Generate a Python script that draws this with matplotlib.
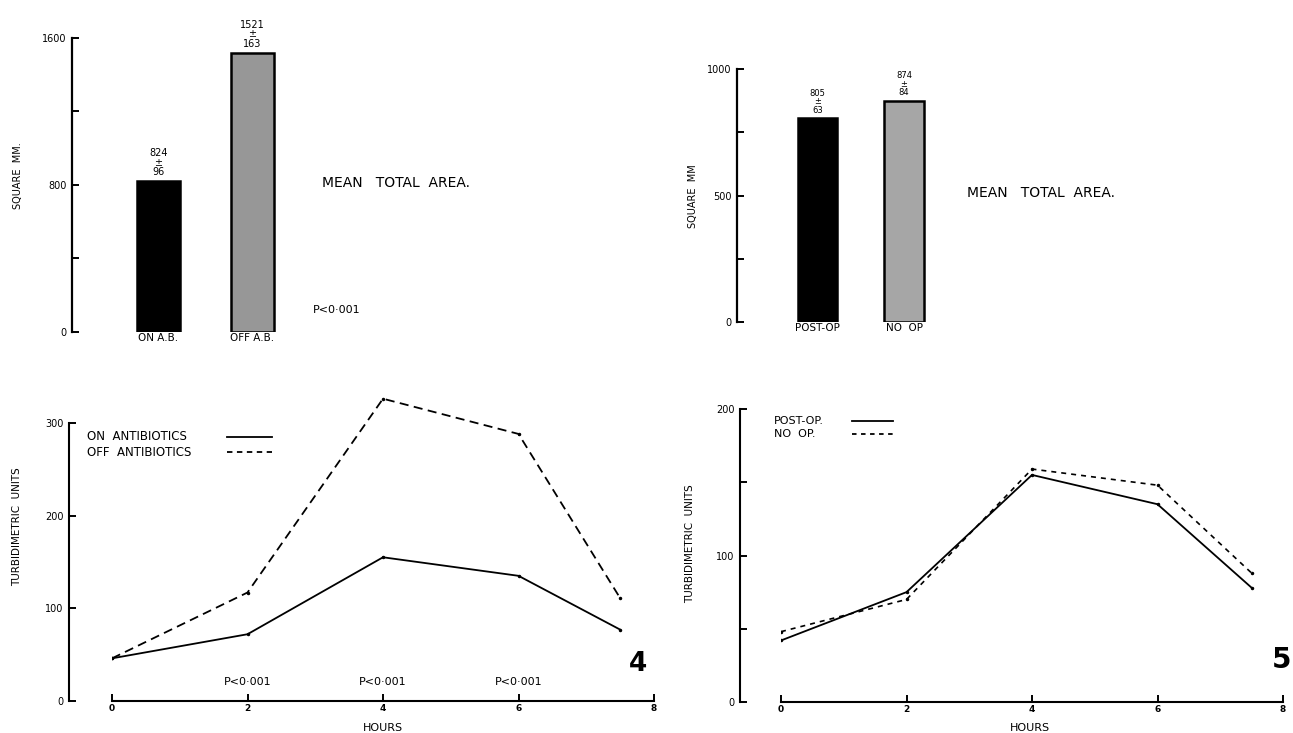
import matplotlib
matplotlib.use("Agg")
import matplotlib.pyplot as plt
from matplotlib.lines import Line2D

# --- data ---
area_labels_4 = ["ON A.B.", "OFF A.B."]
area_means_4 = [824, 1521]
area_sems_4 = [96, 163]

area_labels_5 = ["POST-OP", "NO  OP"]
area_means_5 = [805, 874]
area_sems_5 = [63, 84]

hours = [0, 2, 4, 6, 7.5]
on_antibiotics = [46, 72, 155, 135, 77]
off_antibiotics = [46, 117, 326, 288, 111]
post_op = [42, 75, 155, 135, 78]
no_op = [48, 70, 159, 148, 88]

p_hours = [2, 4, 6]
p_labels = ["P<0·001", "P<0·001", "P<0·001"]

W, H = 1293, 733
plt.rcParams["font.family"] = ["DejaVu Sans"]


def box(left, top, right, bottom):
    # pixel box -> figure fraction rect
    return [left / W, 1 - bottom / H, (right - left) / W, (bottom - top) / H]


def fxy(x, y):
    return x / W, 1 - y / H


fig = plt.figure(figsize=(W / 100, H / 100), dpi=100)
fig.patch.set_facecolor("white")


def bar_panel(rect, labels, means, sems, ymax, yticks, ylabels, xlim, colors, fs_ann):
    ax = fig.add_axes(rect)
    pos = list(range(len(labels)))
    ax.bar(pos, means, width=0.46, color=colors, edgecolor="black", linewidth=1.8)
    for p, m, s in zip(pos, means, sems):
        ax.annotate(f"{m}\n±\n{s}", (p, m), xytext=(0, 2.5), textcoords="offset points",
                    ha="center", va="bottom", fontsize=fs_ann, linespacing=0.95)
    ax.set_xlim(*xlim)
    ax.set_ylim(0, ymax)
    for s in ["top", "right", "bottom"]:
        ax.spines[s].set_visible(False)
    ax.spines["left"].set_linewidth(1.6)
    ax.set_yticks(yticks)
    ax.set_yticklabels(ylabels, fontsize=7)
    ax.tick_params(axis="y", direction="in", length=5, width=1.4, pad=4)
    ax.set_xticks(pos)
    ax.set_xticklabels(labels, fontsize=7.5)
    ax.tick_params(axis="x", length=0, pad=1)
    ax.patch.set_alpha(0)
    return ax


# --- top-left: mean total area (fig 4) ---
bar_panel(box(72, 38, 300, 332), area_labels_4, area_means_4, area_sems_4, 1600,
          [0, 400, 800, 1200, 1600], ["0", "", "800", "", "1600"],
          (-0.92, 1.505), ["black", "#979797"], 7)
fig.text(*fxy(18, 176), "SQUARE  MM.", rotation=90, fontsize=7, ha="center", va="center")
fig.text(*fxy(322, 183), "MEAN   TOTAL  AREA.", fontsize=10, ha="left", va="center")
fig.text(*fxy(313, 310), "P<0·001", fontsize=8, ha="left", va="center")

# --- top-right: mean total area (fig 5) ---
bar_panel(box(737, 69, 960, 322), area_labels_5, area_means_5, area_sems_5, 1000,
          [0, 250, 500, 750, 1000], ["0", "", "500", "", "1000"],
          (-0.93, 1.647), ["black", "#a6a6a6"], 6)
fig.text(*fxy(693, 196), "SQUARE  MM", rotation=90, fontsize=7, ha="center", va="center")
fig.text(*fxy(967, 193), "MEAN   TOTAL  AREA.", fontsize=10, ha="left", va="center")


def line_panel(rect, ymax, ytop, yticks, ylabels, offset_pt):
    ax = fig.add_axes(rect)
    ax.set_xlim(0, 8)
    ax.set_ylim(0, ymax)
    for s in ["top", "right"]:
        ax.spines[s].set_visible(False)
    ax.spines["left"].set_position(("outward", offset_pt))
    ax.spines["left"].set_bounds(0, ytop)
    ax.spines["bottom"].set_bounds(0, 8)
    ax.spines["left"].set_linewidth(1.5)
    ax.spines["bottom"].set_linewidth(1.5)
    ax.set_yticks(yticks)
    ax.set_yticklabels(ylabels, fontsize=7)
    ax.set_xticks([0, 2, 4, 6, 8])
    ax.set_xticklabels(["0", "2", "4", "6", "8"], fontsize=6.5, fontweight="bold")
    ax.tick_params(direction="in", length=5, width=1.4)
    ax.tick_params(axis="x", pad=2)
    ax.tick_params(axis="y", pad=4)
    ax.patch.set_alpha(0)
    return ax


def key(label, x_text, x0, x1, y, ls, fs):
    # hand-drawn legend row: text, then a line sample to its right
    fig.text(*fxy(x_text, y), label, fontsize=fs, ha="left", va="center")
    fig.add_artist(Line2D([x0 / W, x1 / W], [1 - y / H, 1 - y / H], color="black",
                          lw=1.3, ls=ls, transform=fig.transFigure))


# --- bottom-left: turbidimetric units, antibiotics ---
ax3 = line_panel(box(112, 395, 654, 701), 330, 300, [0, 100, 200, 300],
                 ["0", "100", "200", "300"], 31)
ax3.plot(hours, on_antibiotics, "-", color="black", lw=1.3, marker=".", ms=3)
ax3.plot(hours, off_antibiotics, color="black", lw=1.3, ls=(0, (5, 3)), marker=".", ms=3)
for h, p in zip(p_hours, p_labels):
    ax3.annotate(p, (h, 0), xytext=(0, 14), textcoords="offset points",
                 ha="center", va="center", fontsize=8)
key("ON  ANTIBIOTICS", 87, 227, 272, 437, "-", 8.5)
key("OFF  ANTIBIOTICS", 87, 227, 272, 452, (0, (3, 2.5)), 8.5)
fig.text(*fxy(17, 527), "TURBIDIMETRIC  UNITS", rotation=90, fontsize=7.5,
         ha="center", va="center")
fig.text(*fxy(383, 728), "HOURS", fontsize=8, ha="center", va="center")
fig.text(*fxy(638, 664), "4", fontsize=19, fontweight="bold", ha="center", va="center")

# --- bottom-right: turbidimetric units, operation ---
ax4 = line_panel(box(781, 409, 1283, 702), 200, 200, [0, 50, 100, 150, 200],
                 ["0", "", "100", "", "200"], 29.5)
ax4.plot(hours, post_op, "-", color="black", lw=1.3, marker=".", ms=3)
ax4.plot(hours, no_op, color="black", lw=1.2, ls=(0, (3, 3)), marker=".", ms=3)
key("POST-OP.", 774, 852, 893, 421, "-", 8)
key("NO  OP.", 774, 852, 893, 434, (0, (2.5, 2.5)), 8)
fig.text(*fxy(690, 544), "TURBIDIMETRIC  UNITS", rotation=90, fontsize=7.5,
         ha="center", va="center")
fig.text(*fxy(1030, 728), "HOURS", fontsize=8, ha="center", va="center")
fig.text(*fxy(1291, 660), "5", fontsize=20, fontweight="bold", ha="right", va="center")

fig.savefig("out.png", dpi=100)
